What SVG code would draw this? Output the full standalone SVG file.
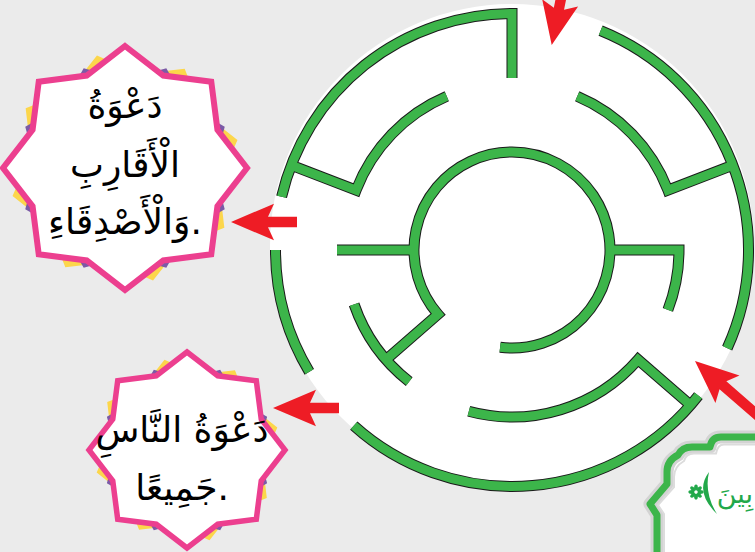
<svg xmlns="http://www.w3.org/2000/svg" width="755" height="552" viewBox="0 0 755 552">
<style>
.ar{font-family:"DejaVu Sans","Noto Sans",sans-serif;fill:#000;text-anchor:middle;font-size:36px}
.pink{fill:#fff;stroke:#ec3f8f}
.yel{fill:#fcd64b}
.pur{fill:#7b5aa6}
.wallb{fill:none;stroke:#1a1a1a;stroke-width:11;stroke-linejoin:miter}
.wallg{fill:none;stroke:#3cb54a;stroke-width:9;stroke-linejoin:miter}
.arrow{fill:#ee1c25}
.gtext{font-family:"DejaVu Sans","Noto Sans",sans-serif;fill:#22a84a}
.gfill{fill:#22a84a}
</style>
<defs>
<path id="star" vector-effect="non-scaling-stroke" d="M0,-100 L31.38,-75.76 L70.71,-70.71 L75.76,-31.38 L100,0 L75.76,31.38 L70.71,70.71 L31.38,75.76 L0,100 L-31.38,75.76 L-70.71,70.71 L-75.76,31.38 L-100,0 L-75.76,-31.38 L-70.71,-70.71 L-31.38,-75.76 Z"/>
<path id="arrS" d="M0,0 L43,-18.3 L37,-5.2 L66,-5.2 L66,5.2 L37,5.2 L43,18.3 Z"/>
<path id="arrL" d="M0,0 L43,-18.3 L37,-5.2 L120,-5.2 L120,5.2 L37,5.2 L43,18.3 Z"/>
<path id="walls" d="M512,78 L512,13.5 A236.5,236.5 0 0 0 281.6,196.8 M446.75,96.3 A167,167 0 0 0 356.1,190.15 L291.2,165.2 M275.5,250 A236.5,236.5 0 0 0 309.3,371.8 M353.8,425.7 A236.5,236.5 0 0 0 698.4,395.6 M468.8,411.3 A167,167 0 0 0 638,359.6 L690.5,405.2 M727.2,348.1 A236.5,236.5 0 0 0 600.6,30.7 M577.25,96.3 A167,167 0 0 1 667.9,190.15 L732.8,165.2 M610,250 L679,250 A167,167 0 0 1 667.9,309.85 M414,250 L337,250 M354.1,304.4 A167,167 0 0 0 409.2,381.6 M500.1,347.3 A98,98 0 1 0 438,314.3 L386,359.6"/>
<path id="frame" d="M760,437 L721,437 C714,437 711,441 710,447 L692,447 C684,447 680,451 678,455 C670,459 667,465 667,472 L667,484 L650,504 L657,515 L657,560"/>
<ellipse id="petal" cx="0" cy="-4.2" rx="1.9" ry="3.4"/>
</defs>
<rect width="755" height="552" fill="#ebebeb"/>

<g id="maze">
<circle cx="512" cy="246" r="242" fill="#fff"/>
<use href="#walls" class="wallb"/>
<use href="#walls" class="wallg"/>
</g>

<g id="node-relatives">
<use href="#star" class="yel" transform="translate(125,168) scale(1.22) rotate(31) scale(0.95)"/>
<use href="#star" class="pur" transform="translate(125,168) scale(1.22) rotate(22.5) scale(0.885)"/>
<use href="#star" class="pink" stroke-width="6" transform="translate(125,168) scale(1.22)"/>
<text class="ar" x="125" y="118">دَعْوَةُ</text>
<text class="ar" x="125" y="177">الْأَقَارِبِ</text>
<text class="ar" x="125" y="234">وَالْأَصْدِقَاءِ.</text>
</g>

<g id="node-people">
<use href="#star" class="yel" transform="translate(187,450) scale(0.98) rotate(31) scale(0.95)"/>
<use href="#star" class="pur" transform="translate(187,450) scale(0.98) rotate(22.5) scale(0.885)"/>
<use href="#star" class="pink" stroke-width="5.5" transform="translate(187,450) scale(0.98)"/>
<text class="ar" x="182" y="442">دَعْوَةُ النَّاسِ</text>
<text class="ar" x="182" y="500">جَمِيعًا.</text>
</g>

<g id="node-verse">
<path d="M760,437 L721,437 C714,437 711,441 710,447 L692,447 C684,447 680,451 678,455 C670,459 667,465 667,472 L667,484 L650,504 L657,515 L657,560 L760,560 Z" fill="#fff"/>
<use href="#frame" fill="none" stroke="#d3d3d3" stroke-width="13" stroke-linejoin="round"/>
<use href="#frame" fill="none" stroke="#3cb54a" stroke-width="7" stroke-linejoin="round"/>
<path d="M760,444.5 L724,444.5 C719,444.5 717,448 716,453.5 L694,453.5 C688,453.5 685,457 684,461 C677,465 674,470 674,477 L674,487 L658,505 L664,514 L664,560" fill="none" stroke="#dcdcdc" stroke-width="2"/>
<g id="ornament" class="gfill" transform="translate(696,492)">
<use href="#petal"/>
<use href="#petal" transform="rotate(45)"/>
<use href="#petal" transform="rotate(90)"/>
<use href="#petal" transform="rotate(135)"/>
<use href="#petal" transform="rotate(180)"/>
<use href="#petal" transform="rotate(225)"/>
<use href="#petal" transform="rotate(270)"/>
<use href="#petal" transform="rotate(315)"/>
<circle r="2.4" fill="#fff" stroke="#22a84a" stroke-width="1.4"/>
</g>
<path class="gfill" d="M709,472 Q694,492 717,514 Q704,493 709,472 Z"/>
<text class="gtext" x="753" y="503" font-size="27" text-anchor="end">بِينَ</text>
</g>

<g id="connectors">
<use href="#arrS" class="arrow" transform="translate(231,222)"/>
<use href="#arrS" class="arrow" transform="translate(273,408)"/>
<use href="#arrL" class="arrow" transform="translate(551.7,45) rotate(-78.7)"/>
<use href="#arrL" class="arrow" transform="translate(695,361) rotate(41)"/>
</g>
</svg>
